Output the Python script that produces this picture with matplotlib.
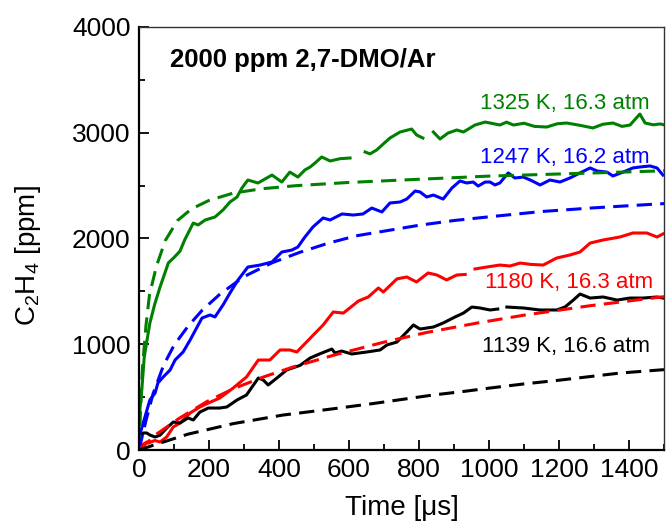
import numpy as np
import matplotlib
matplotlib.use("Agg")
import matplotlib.pyplot as plt
from matplotlib.ticker import MultipleLocator

plt.rcParams['font.family'] = ['Liberation Sans', 'DejaVu Sans']
plt.rcParams['mathtext.fontset'] = 'custom'
plt.rcParams['mathtext.rm'] = 'Liberation Sans'
plt.rcParams['mathtext.it'] = 'Liberation Sans:italic'

nan = np.nan

# measured C2H4 traces (solid) -- nan marks the gaps in the traces
t_1325 = [0, 3, 8, 15, 31, 45, 60, 84, 100, 117, 131, 155, 169, 189, 217, 240, 260, 280, 294, 311,
          340, 380, 408, 431, 454, 474, 489, 503, 522, 546, 575, 603, 625, 646, 660, 679, 700, 717,
          746, 779, 793, 811, 826, 841, 860, 883, 908, 927, 960, 989, 1003, 1031, 1050, 1070, 1100,
          1130, 1165, 1195, 1222, 1260, 1297, 1325, 1354, 1380, 1403, 1431, 1446, 1469, 1489, 1500]
c_1325 = [250, 400, 570, 880, 1200, 1380, 1540, 1770, 1820, 1880, 1990, 2146, 2128, 2175, 2203, 2270,
          2345, 2392, 2477, 2553, 2525, 2600, 2534, 2628, 2581, 2648, 2676, 2714, 2771, 2733, 2755,
          2761, nan, 2818, 2800, 2837, 2900, 2950, 3007, 3035, 2979, 2950, nan, 3007, 2941, 2997,
          3026, 3007, 3073, 3101, 3092, 3073, 3100, 3073, 3090, 3060, 3054, 3085, 3092, 3070, 3045,
          3080, 3092, 3060, 3073, 3177, 3092, 3075, 3083, 3075]

t_1247 = [0, 12, 31, 46, 54, 69, 89, 103, 126, 146, 166, 180, 203, 217, 240, 260, 283, 311, 346, 380,
          408, 437, 454, 474, 497, 526, 546, 580, 612, 640, 665, 694, 717, 746, 765, 789, 803, 822,
          841, 869, 894, 917, 936, 955, 969, 989, 1003, 1017, 1031, 1055, 1074, 1098, 1120, 1146,
          1174, 1203, 1231, 1260, 1289, 1309, 1337, 1354, 1383, 1411, 1431, 1460, 1480, 1497]
c_1247 = [120, 255, 473, 539, 634, 690, 757, 851, 927, 1040, 1163, 1248, 1277, 1258, 1371, 1485, 1608,
          1730, 1749, 1778, 1872, 1891, 1920, 2014, 2109, 2194, 2175, 2232, 2222, 2232, 2288, 2251,
          2336, 2345, 2373, 2449, 2440, 2392, 2411, 2373, 2477, 2544, 2525, 2534, 2496, 2534, 2534,
          2506, 2525, 2620, 2572, 2581, 2550, 2506, 2553, 2534, 2572, 2620, 2667, 2638, 2628, 2591,
          2628, 2667, 2676, 2686, 2667, 2600]

t_1180 = [0, 22, 27, 45, 60, 79, 98, 117, 146, 174, 198, 231, 269, 307, 341, 374, 403, 431, 451, 498,
          526, 555, 584, 627, 655, 684, 698, 737, 765, 793, 826, 851, 879, 908, 932, 946, 960, 993,
          1031, 1060, 1089, 1120, 1155, 1193, 1231, 1260, 1289, 1326, 1374, 1411, 1451, 1480, 1497]
c_1180 = [28, 76, 66, 90, 76, 123, 218, 255, 350, 407, 444, 492, 586, 690, 851, 851, 946, 946, 927,
          1087, 1182, 1305, 1295, 1409, 1447, 1532, 1494, 1618, 1636, 1589, 1674, 1655, 1608, 1655,
          1660, nan, 1712, 1730, 1749, 1740, 1768, 1755, 1749, 1815, 1844, 1872, 1957, 1986, 2014,
          2052, 2052, 2014, 2043]

t_1139 = [0, 5, 12, 22, 31, 46, 60, 80, 98, 117, 140, 155, 174, 198, 231, 251, 280, 307, 341, 355,
          369, 394, 422, 460, 489, 517, 551, 560, 579, 608, 651, 689, 708, 737, 765, 784, 803, 841,
          869, 903, 927, 951, 974, 1003, 1025, 1038, 1051, 1098, 1146, 1193, 1217, 1241, 1260, 1289,
          1326, 1366, 1403, 1440, 1480, 1497]
c_1139 = [76, 123, 161, 161, 142, 123, 140, 210, 265, 255, 303, 284, 359, 397, 397, 407, 473, 520, 681,
          662, 615, 681, 757, 800, 870, 910, 955, 917, 936, 908, 927, 946, 993, 1021, 1116, 1182, 1144,
          1163, 1201, 1258, 1295, 1352, 1343, 1324, 1333, nan, 1352, 1343, 1324, 1324, 1352, 1418,
          1475, 1437, 1447, 1418, 1437, 1437, 1447, 1437]

# model predictions (dashed)
tm_1325 = [0, 5, 10, 20, 30, 50, 75, 110, 150, 200, 270, 350, 450, 600, 800, 1000, 1250, 1500]
cm_1325 = [0, 420, 780, 1180, 1470, 1740, 1980, 2170, 2280, 2360, 2430, 2470, 2500, 2530, 2560, 2590,
           2615, 2640]
tm_1247 = [0, 20, 40, 70, 100, 140, 180, 230, 300, 380, 460, 540, 620, 710, 800, 900, 1000, 1150,
           1300, 1500]
cm_1247 = [0, 280, 530, 800, 990, 1170, 1320, 1470, 1640, 1770, 1870, 1955, 2025, 2075, 2125, 2170,
           2205, 2255, 2290, 2330]
tm_1180 = [0, 50, 115, 195, 270, 355, 440, 560, 700, 820, 965, 1100, 1290, 1500]
cm_1180 = [0, 150, 300, 460, 580, 690, 785, 900, 1020, 1110, 1200, 1275, 1365, 1450]
tm_1139 = [0, 50, 140, 270, 410, 555, 670, 755, 840, 930, 1000, 1100, 1200, 1290, 1375, 1500]
cm_1139 = [0, 55, 150, 250, 330, 390, 440, 480, 520, 555, 585, 625, 660, 695, 728, 760]

labels = ["1325 K, 16.3 atm", "1247 K, 16.2 atm", "1180 K, 16.3 atm", "1139 K, 16.6 atm"]
colors = ["#008000", "#0000ff", "#ff0000", "black"]

fig = plt.figure(figsize=(6.67, 5.29), dpi=100)
ax = fig.add_axes([0.2084, 0.1493, 0.7871, 0.7997])

meas = [(t_1325, c_1325), (t_1247, c_1247), (t_1180, c_1180), (t_1139, c_1139)]
model = [(tm_1325, cm_1325), (tm_1247, cm_1247), (tm_1180, cm_1180), (tm_1139, cm_1139)]
for (t, c), col in zip(meas, colors):
    ax.plot(t, c, color=col, lw=2.2, solid_joinstyle='round')
for (t, c), col in zip(model, colors):
    ax.plot(t, c, color=col, lw=2.2, dashes=(5, 2.7))

ax.set_xlim(0, 1500)
ax.set_ylim(0, 4000)
ax.xaxis.set_major_locator(MultipleLocator(200))
ax.xaxis.set_minor_locator(MultipleLocator(100))
ax.yaxis.set_major_locator(MultipleLocator(1000))
ax.yaxis.set_minor_locator(MultipleLocator(500))
ax.tick_params(which='both', direction='in', top=False, right=False, labelsize=19, width=1.3)
ax.tick_params(axis='x', pad=6)
ax.tick_params(axis='y', pad=6)
ax.tick_params(which='major', length=7)
ax.tick_params(which='minor', length=4)
for s in ['left', 'bottom']:
    ax.spines[s].set_linewidth(1.6)
for s in ['top', 'right']:
    ax.spines[s].set_linewidth(1.0)
    ax.spines[s].set_color('#333333')

ax.set_xlabel("Time [\u03bcs]", fontsize=20, labelpad=9)
ax.set_ylabel("C$_2$H$_4$ [ppm]", fontsize=20)
ax.yaxis.set_label_coords(-0.183, 0.46)

ax.text(88, 3625, "2000 ppm 2,7-DMO/Ar", fontsize=18.5, fontweight='bold', va='baseline')
lab_y = [3222, 2712, 1532, 930]
lab_x = [1460, 1460, 1469, 1460]
for x, y, s, col in zip(lab_x, lab_y, labels, colors):
    ax.text(x, y, s, color=col, fontsize=16, ha='right', va='baseline')

fig.savefig("out.png", dpi=100)
